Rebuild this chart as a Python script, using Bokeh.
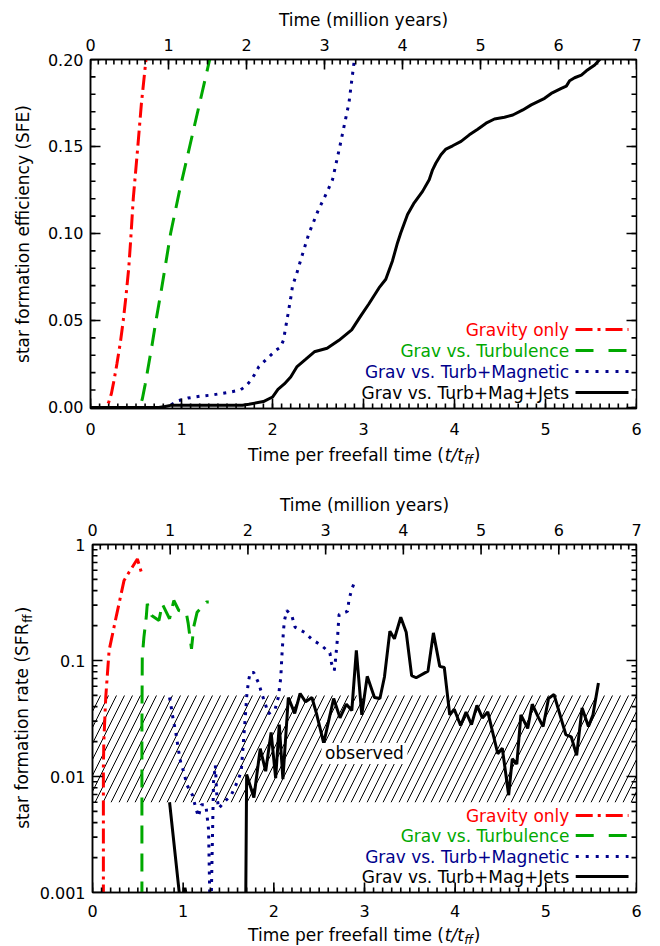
import math
from bokeh.plotting import figure
from bokeh.models import (Range1d, LinearAxis, FixedTicker, PrintfTickFormatter,
                          CustomJSTickFormatter, BoxAnnotation)
from bokeh.layouts import column, row
from bokeh.embed import file_html
from bokeh.resources import INLINE
from bokeh.core.properties import value

# ---------------- data ----------------
tff_ticks = [0, 1, 2, 3, 4, 5, 6]
myr_ticks = [0, 1, 2, 3, 4, 5, 6, 7]
sfe_ticks = [0.0, 0.05, 0.10, 0.15, 0.20]
sfr_ticks = [0.001, 0.01, 0.1, 1]

series_names = ["Gravity only", "Grav vs. Turbulence",
                "Grav vs. Turb+Magnetic", "Grav vs. Turb+Mag+Jets"]

# star formation efficiency (top panel)
sfe_grav_t = [0.0, 0.17, 0.20, 0.23, 0.26, 0.29, 0.33, 0.36, 0.39, 0.42, 0.44, 0.47, 0.52, 0.56, 0.61, 0.63]
sfe_grav = [0.0, 0.0, 0.003, 0.008, 0.016, 0.025, 0.038, 0.05, 0.064, 0.08, 0.095, 0.12, 0.15, 0.175, 0.2, 0.21]

sfe_turb_t = [0.0, 0.54, 0.57, 0.60, 0.64, 0.68, 0.72, 0.78, 0.84, 0.88, 0.98, 1.09, 1.20, 1.31, 1.33]
sfe_turb = [0.0, 0.0, 0.005, 0.013, 0.025, 0.037, 0.05, 0.068, 0.087, 0.10, 0.125, 0.15, 0.175, 0.2, 0.205]

sfe_mag_t = [0.0, 0.80, 0.88, 0.97, 1.07, 1.20, 1.34, 1.53, 1.645, 1.71, 1.76, 1.81, 1.85, 1.97, 2.04,
             2.085, 2.12, 2.14, 2.17, 2.20, 2.22, 2.27, 2.31, 2.40, 2.50, 2.61, 2.66, 2.74, 2.84, 2.90, 2.92]
sfe_mag = [0.0, 0.0, 0.0014, 0.004, 0.0054, 0.0064, 0.0072, 0.0088, 0.010, 0.0124, 0.0155, 0.0195, 0.0235,
           0.0295, 0.033, 0.0345, 0.0386, 0.0446, 0.0536, 0.0627, 0.0697, 0.0777, 0.0847, 0.10, 0.113,
           0.125, 0.131, 0.15, 0.175, 0.2, 0.21]

sfe_jets_t = [0.0, 0.75, 0.82, 0.88, 1.2, 1.67, 1.74, 1.9, 2.0, 2.06, 2.13, 2.2, 2.27, 2.36, 2.46, 2.6,
              2.73, 2.87, 2.97, 3.06, 3.17, 3.245, 3.318, 3.374, 3.41, 3.484, 3.557, 3.649, 3.722, 3.759,
              3.796, 3.851, 3.906, 3.98, 4.072, 4.163, 4.255, 4.347, 4.439, 4.549, 4.641, 4.751, 4.843,
              4.99, 5.063, 5.174, 5.229, 5.265, 5.32, 5.394, 5.449, 5.541, 5.596, 5.62]
sfe_jets = [0.0, 0.0, 0.0005, 0.0012, 0.0013, 0.0013, 0.0018, 0.0034, 0.006, 0.0104, 0.0135, 0.0175,
            0.0235, 0.0275, 0.032, 0.034, 0.0386, 0.0446, 0.0526, 0.0596, 0.0687, 0.0737, 0.0842, 0.0947,
            0.1004, 0.1109, 0.1176, 0.1242, 0.1309, 0.1366, 0.1405, 0.1452, 0.1485, 0.1504, 0.1529,
            0.1567, 0.1599, 0.1634, 0.1658, 0.1668, 0.1681, 0.1710, 0.1739, 0.1777, 0.1805, 0.1834,
            0.1847, 0.1878, 0.1895, 0.1910, 0.1935, 0.1968, 0.2000, 0.202]

# star formation rate per freefall time (bottom panel); values < 0.001 lie below the axis
sfr_grav_t = [0.12, 0.12, 0.125, 0.146, 0.183, 0.264, 0.348, 0.403, 0.495, 0.538]
sfr_grav = [0.0005, 0.012, 0.02, 0.048, 0.122, 0.244, 0.49, 0.577, 0.75, 0.58]

sfr_turb_t = [0.545, 0.545, 0.549, 0.567, 0.593, 0.604, 0.652, 0.733, 0.769, 0.85, 0.897, 0.952,
              1.033, 1.055, 1.092, 1.117, 1.154, 1.256, 1.282]
sfr_turb = [0.0005, 0.0266, 0.107, 0.159, 0.237, 0.308, 0.244, 0.221, 0.308, 0.229, 0.329, 0.27,
            0.261, 0.21, 0.126, 0.196, 0.261, 0.32, 0.32]

sfr_mag_t = [0.85, 0.872, 0.89, 0.916, 0.95, 0.973, 1.01, 1.043, 1.103, 1.135, 1.168, 1.20, 1.25,
             1.28, 1.295, 1.31, 1.335, 1.355, 1.37, 1.39, 1.45, 1.53, 1.60, 1.64, 1.667, 1.685, 1.703,
             1.722, 1.74, 1.777, 1.832, 1.868, 1.905, 1.941, 2.015, 2.05, 2.077, 2.088, 2.106, 2.117,
             2.143, 2.198, 2.234, 2.337, 2.425, 2.52, 2.619, 2.637, 2.667, 2.681, 2.692, 2.703, 2.711,
             2.72, 2.791, 2.813, 2.828, 2.857, 2.901]
sfr_mag = [0.048, 0.038, 0.031, 0.0246, 0.0166, 0.0132, 0.0107, 0.0084, 0.0069, 0.0055, 0.0045,
           0.0057, 0.0057, 0.0035, 0.0008, 0.0009, 0.009, 0.0125, 0.0071, 0.0053, 0.0060, 0.0069,
           0.0091, 0.011, 0.021, 0.0324, 0.0516, 0.0673, 0.079, 0.079, 0.064, 0.0516, 0.0423, 0.0347,
           0.0383, 0.0483, 0.0718, 0.107, 0.18, 0.221, 0.27, 0.244, 0.194, 0.175, 0.151, 0.136, 0.116,
           0.094, 0.082, 0.103, 0.128, 0.159, 0.2, 0.25, 0.261, 0.266, 0.329, 0.406, 0.499]

sfr_jets_t = [0.85, 0.97, 0.99, 1.02, 1.05, 1.69, 1.70, 1.78, 1.85, 1.91, 1.97, 2.02, 2.06, 2.10, 2.16,
              2.23, 2.29, 2.35, 2.42, 2.47, 2.55, 2.66, 2.73, 2.80, 2.86, 2.91, 2.97, 3.03, 3.11, 3.17,
              3.22, 3.28, 3.33, 3.40, 3.46, 3.52, 3.57, 3.70, 3.76, 3.83, 3.88, 3.94, 3.99, 4.06, 4.12,
              4.18, 4.24, 4.30, 4.36, 4.47, 4.52, 4.59, 4.63, 4.68, 4.725, 4.80, 4.85, 4.92, 4.97, 5.03,
              5.09, 5.22, 5.28, 5.34, 5.40, 5.47, 5.52, 5.58]
sfr_jets = [0.006, 0.0008, 0.0008, 0.0011, 0.0008, 0.0008, 0.0104, 0.0066, 0.0174, 0.0111, 0.024,
            0.0097, 0.028, 0.0095, 0.048, 0.035, 0.052, 0.044, 0.048, 0.035, 0.0194, 0.047, 0.032,
            0.042, 0.037, 0.122, 0.034, 0.073, 0.048, 0.047, 0.072, 0.179, 0.154, 0.236, 0.175, 0.074,
            0.071, 0.081, 0.173, 0.089, 0.087, 0.034, 0.038, 0.0275, 0.036, 0.028, 0.041, 0.032, 0.036,
            0.0157, 0.0175, 0.0069, 0.0142, 0.0128, 0.034, 0.026, 0.042, 0.032, 0.027, 0.047, 0.051,
            0.023, 0.022, 0.0152, 0.039, 0.027, 0.034, 0.064]

obs_lo, obs_hi = 0.006, 0.05          # observed SFR_ff band
obs_text_t, obs_text_v = 3.0, 0.0158  # where the "observed" tag sits

# ---------------- style / layout ----------------
FONT = "DejaVu Sans"
FS = 16        # tick labels
FT_ = 17       # titles / legend
FS_SUB = 12
COLORS = ["#ff0000", "#00a800", "#00008c", "#000000"]
DASHES = ["15 5 3 5", "18 10", "3 6", "solid"]
LEG_DASHES = ["17 5 3 5", "18 15", "3 7", "solid"]
LW = 3
TICK_MAJ, TICK_MIN, TICK_W = 10, 5, 1.6
FRAME_W_LINE = 1.5
MYR_PER_TFF = 7.0 / 6.0

PAGE_W = 660
FL, FW = 90, 546            # frame left / width (page px)
FR = PAGE_W - FL - FW
CX = FL + FW / 2
YSTRIP_W = 36               # strip holding the rotated title of the lower panel

W = {' ': .318, '(': .390, ')': .390, '.': .318, '/': .337, '+': .838, 'F': .575, 'G': .775,
     'J': .295, 'M': .863, 'R': .695, 'S': .635, 'T': .611, 'E': .632, 'a': .613, 'b': .635,
     'c': .550, 'd': .635, 'e': .615, 'f': .352, 'g': .635, 'i': .278, 'l': .278, 'm': .974,
     'n': .634, 'o': .612, 'p': .635, 'r': .411, 's': .521, 't': .392, 'u': .634, 'v': .592,
     'y': .592}


def tw(s, size):
    return size * sum(W.get(c, 0.6) for c in s)


def txt(p, x, y, s, size=FT_, align="left", style="normal", angle=0.0, color="black"):
    p.text(x=[x], y=[y], text=[s], text_font=value(FONT), text_font_size=value(f"{size}px"),
           text_align=align, text_baseline="middle", text_font_style=style, angle=[angle],
           text_color=color)


class Panel:
    """maps page pixels of a plot frame to data coordinates"""

    def __init__(self, p, top, fh, ymap):
        self.p, self.top, self.fh, self.ymap = p, top, fh, ymap

    def X(self, px):
        return 6.0 * (px - FL) / FW

    def Y(self, py):
        return self.ymap((self.top + self.fh - py) / self.fh)

    def legend(self, rows):
        for name, c, d, r in zip(series_names, COLORS, LEG_DASHES, rows):
            py = self.top + r
            yv = self.Y(py)
            txt(self.p, self.X(FL + 478.6), yv, name, align="right", color=c)
            self.p.line([self.X(575), self.X(628)], [yv, yv], line_color=c, line_width=LW,
                        line_dash=d)

    def ticks(self, xmaj, xmin, ymaj, ymin, ylo, yhi):
        """inward tick marks on all four sides: filled bars centred on the frame edge
        (the outer half is clipped away by the frame)"""
        tmaj = [m / MYR_PER_TFF for m in myr_ticks]
        tmin = [i / 10 / MYR_PER_TFF for i in range(71)]
        xs, ys, ws, hs = [], [], [], []
        for xl, L in ((xmaj, TICK_MAJ), (xmin, TICK_MIN)):
            for x in xl:
                xs.append(x); ys.append(ylo); ws.append(TICK_W); hs.append(2 * L)
        for xl, L in ((tmaj, TICK_MAJ), (tmin, TICK_MIN)):
            for x in xl:
                xs.append(x); ys.append(yhi); ws.append(TICK_W); hs.append(2 * L)
        for yl, L in ((ymaj, TICK_MAJ), (ymin, TICK_MIN)):
            for y in yl:
                for xe in (0.0, 6.0):
                    xs.append(xe); ys.append(y); ws.append(2 * L); hs.append(TICK_W)
        self.p.rect(x=xs, y=ys, width=ws, height=hs, width_units="screen",
                    height_units="screen", fill_color="black", line_color=None)


def style_axis(ax, standoff):
    ax.axis_line_color = "black"
    ax.axis_line_width = FRAME_W_LINE
    ax.major_tick_in = 0
    ax.major_tick_out = 0
    ax.minor_tick_in = 0
    ax.minor_tick_out = 0
    ax.major_tick_line_color = None
    ax.minor_tick_line_color = None
    ax.major_label_text_font = FONT
    ax.major_label_text_color = "black"
    ax.major_label_standoff = standoff
    ax.major_label_text_font_size = f"{FS}px"
    ax.axis_label_text_font = FONT
    ax.axis_label_text_font_size = f"{FT_}px"
    ax.axis_label_text_font_style = "normal"
    ax.axis_label_text_color = "black"


def base_fig(width, height, bl, bt, fh, y_range, bottom_standoff, y_axis_type="linear"):
    p = figure(width=width, height=height, x_range=Range1d(0, 6), y_range=y_range,
               y_axis_type=y_axis_type, output_backend="svg", toolbar_location=None,
               min_border_left=bl, min_border_right=width - bl - FW, min_border_top=bt,
               min_border_bottom=height - bt - fh)
    p.extra_x_ranges = {"myr": Range1d(0, 7)}
    p.xgrid.visible = False
    p.ygrid.visible = False
    p.outline_line_color = "black"
    p.outline_line_width = FRAME_W_LINE
    p.background_fill_color = "white"
    p.border_fill_color = "white"
    p.xaxis[0].ticker = FixedTicker(ticks=tff_ticks)
    style_axis(p.xaxis[0], bottom_standoff)
    top = LinearAxis(x_range_name="myr", ticker=FixedTicker(ticks=myr_ticks),
                     axis_label="Time (million years)")
    style_axis(top, 9)
    top.axis_label_standoff = 6
    p.add_layout(top, "above")
    style_axis(p.yaxis[0], 7)
    return p


def strip(width, height, bl, br, bt, bb):
    """text-only canvas; its frame is given explicit borders so page px map 1:1"""
    s = figure(width=width, height=height, x_range=Range1d(0, width - bl - br),
               y_range=Range1d(0, height - bt - bb), output_backend="svg",
               toolbar_location=None, min_border_left=bl, min_border_right=br,
               min_border_top=bt, min_border_bottom=bb,
               x_axis_location=None, y_axis_location=None)
    s.xgrid.visible = False
    s.ygrid.visible = False
    s.outline_line_color = None
    s.background_fill_color = "white"
    s.border_fill_color = "white"
    return s


def x_title(s, cy_from_top, height):
    s1, s2, s3, s4 = "Time per freefall time (", "t/t", "ff", ")"
    w1, w2, w3, w4 = tw(s1, FT_), tw(s2, FT_), tw(s3, FS_SUB), tw(s4, FT_)
    x0 = CX - (w1 + w2 + w3 + w4) / 2 - FL
    y = height - cy_from_top
    txt(s, x0, y, s1)
    txt(s, x0 + w1, y, s2, style="italic")
    txt(s, x0 + w1 + w2 + 0.5, y - 5, s3, size=FS_SUB, style="italic")
    txt(s, x0 + w1 + w2 + w3 + 1.5, y, s4)


# ---------------- top panel ----------------
H1, BT1, FH1 = 442, 59, 349
Y1_LO, Y1_HI = -0.0006, 0.2
SPAN1 = Y1_HI - Y1_LO
p1 = base_fig(PAGE_W, H1, FL, BT1, FH1, Range1d(Y1_LO, Y1_HI), 14)
p1.yaxis[0].ticker = FixedTicker(ticks=sfe_ticks)
p1.yaxis[0].formatter = PrintfTickFormatter(format="%.2f")
p1.yaxis[0].axis_label = "star formation efficiency (SFE)"
p1.yaxis[0].axis_label_standoff = 12

P1 = Panel(p1, BT1, FH1, lambda f: Y1_LO + f * SPAN1)

for t, v, c, d in zip([sfe_grav_t, sfe_turb_t, sfe_mag_t, sfe_jets_t],
                      [sfe_grav, sfe_turb, sfe_mag, sfe_jets], COLORS, DASHES):
    p1.line(t, v, line_color=c, line_width=LW, line_dash=d)

P1.ticks(tff_ticks, [i / 10 for i in range(61)], sfe_ticks, [i / 100 for i in range(21)],
         Y1_LO, Y1_HI)
P1.legend([270, 291, 312, 333])

XT1_H = 478 - H1
xt1 = strip(PAGE_W, XT1_H, FL, FR, 0, 0)
x_title(xt1, 454 - H1, XT1_H)

# ---------------- bottom panel ----------------
TOP2 = 478
H2, BT2, FH2 = 446, 66, 348
BB2 = H2 - BT2 - FH2
p2 = base_fig(PAGE_W - YSTRIP_W, H2, FL - YSTRIP_W, BT2, FH2, Range1d(0.001, 1), 12,
              y_axis_type="log")
p2.yaxis[0].ticker = FixedTicker(ticks=sfr_ticks)
p2.yaxis[0].formatter = CustomJSTickFormatter(code="return String(tick);")

P2 = Panel(p2, TOP2 + BT2, FH2, lambda f: 10 ** (-3 + 3 * f))

p2.add_layout(BoxAnnotation(bottom=obs_lo, top=obs_hi, fill_color=None, fill_alpha=0,
                            line_color=None, line_alpha=0, hatch_pattern="/", hatch_color="black",
                            hatch_weight=1, hatch_scale=16, level="underlay"))

for t, v, c, d in zip([sfr_grav_t, sfr_turb_t, sfr_mag_t, sfr_jets_t],
                      [sfr_grav, sfr_turb, sfr_mag, sfr_jets], COLORS, DASHES):
    p2.line(t, v, line_color=c, line_width=LW, line_dash=d)

P2.ticks(tff_ticks, [i / 10 for i in range(61)], sfr_ticks,
         [k * 10.0 ** e for e in (-3, -2, -1) for k in range(2, 10)], 0.001, 1)

# white tag with the "observed" text
p2.rect(x=[obs_text_t], y=[obs_text_v], width=86, height=21, width_units="screen",
        height_units="screen", fill_color="white", line_color=None)
txt(p2, obs_text_t, obs_text_v, "observed", align="center")

P2.legend([271, 291, 312, 332])

# rotated y title (with subscript) in a narrow strip left of the lower panel;
# the strip's frame coincides vertically with the lower panel's frame
yt2 = strip(YSTRIP_W, H2, 0, 0, BT2, BB2)
s1, s2, s3 = "star formation rate (SFR", "ff", ")"
w1, w2, w3 = tw(s1, FT_), tw(s2, FS_SUB), tw(s3, FT_)
ystart = FH2 / 2 - (w1 + w2 + w3) / 2        # frame-relative, measured upward
XC = 22
txt(yt2, XC, ystart, s1, angle=math.pi / 2)
txt(yt2, XC + 5, ystart + w1 + 0.5, s2, size=FS_SUB, angle=math.pi / 2)
txt(yt2, XC, ystart + w1 + w2 + 1.5, s3, angle=math.pi / 2)

XT2_H = 946 - TOP2 - H2
xt2 = strip(PAGE_W, XT2_H, FL, FR, 0, 0)
x_title(xt2, 934 - TOP2 - H2, XT2_H)

layout = column(p1, xt1, row(yt2, p2), xt2)
open("out.html", "w").write(file_html(layout, INLINE))
